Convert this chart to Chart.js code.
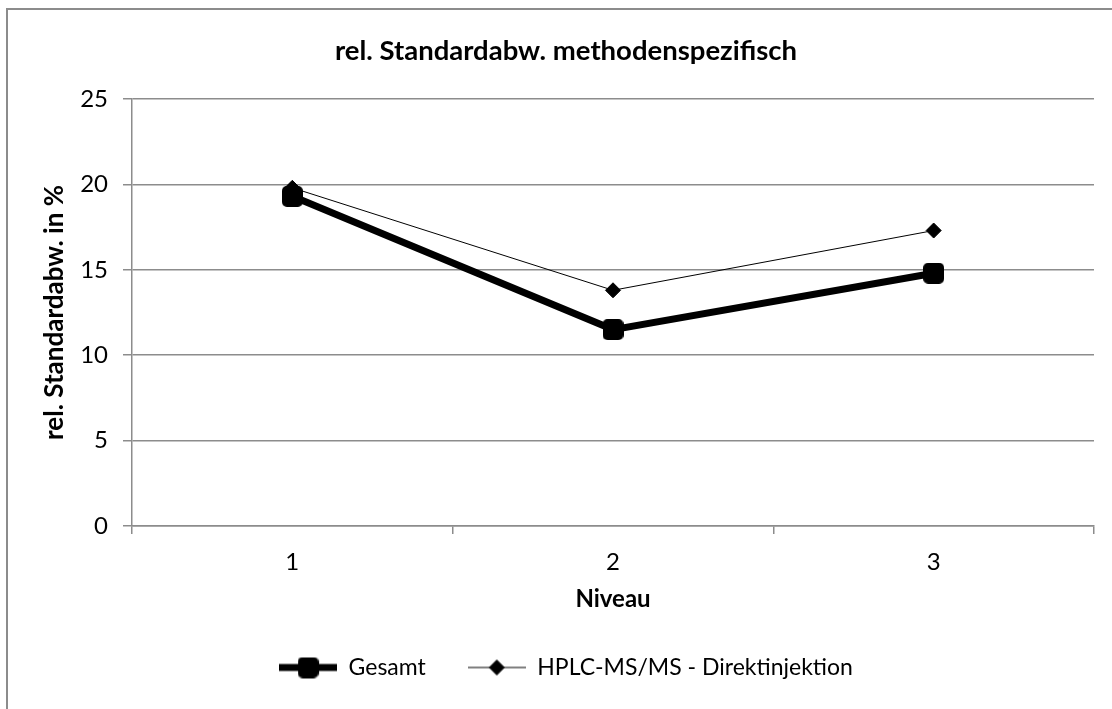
<!DOCTYPE html>
<html>
<head>
<meta charset="utf-8">
<title>rel. Standardabw. methodenspezifisch</title>
<script src="https://cdn.jsdelivr.net/npm/chart.js@4/dist/chart.umd.min.js"></script>
<style>
  html, body { margin: 0; padding: 0; background: #fff; overflow: hidden; }
  #wrap { width: 1112px; height: 709px; position: relative; }
</style>
</head>
<body>
<div id="wrap"><canvas id="chart" width="1112" height="709"></canvas></div>
<script>
// Niveau categories and relative standard deviations (%)
const niveaus = ['1', '2', '3'];
const gesamt = [19.3, 11.5, 14.8];
const hplcDirekt = [19.8, 13.8, 17.3];
const yTicks = [0, 5, 10, 15, 20, 25];

const FONT = 'Lato, "Open Sans", "Noto Sans", sans-serif';
const GRID = '#8c8c8c';

// square marker with small rounded corners (Excel style)
function squareMarker(size, r) {
  const c = document.createElement('canvas');
  c.width = size; c.height = size;
  const ctx = c.getContext('2d');
  ctx.fillStyle = '#000';
  ctx.beginPath();
  ctx.roundRect(0, 0, size, size, r);
  ctx.fill();
  return c;
}
const gesamtMarker = squareMarker(21, 5);

// small line+marker sample used as the legend symbol
function legendGlyph(lineWidth, drawMarker) {
  const c = document.createElement('canvas');
  c.width = 58; c.height = 26;
  const ctx = c.getContext('2d');
  ctx.strokeStyle = '#000';
  ctx.fillStyle = '#000';
  ctx.lineWidth = lineWidth;
  ctx.beginPath();
  ctx.moveTo(0, 13);
  ctx.lineTo(58, 13);
  ctx.stroke();
  ctx.lineWidth = 1;
  drawMarker(ctx, 29, 13);
  return c;
}

const glyphs = {
  0: legendGlyph(7, (ctx, x, y) => ctx.drawImage(gesamtMarker, x - 10.5, y - 10.5)),
  1: legendGlyph(1, (ctx, x, y) =>
    Chart.helpers.drawPoint(ctx, { pointStyle: 'rectRot', radius: 7.5, borderWidth: 1, rotation: 0 }, x, y))
};

// grey frame round the whole chart
const frame = {
  id: 'frame',
  beforeDraw(chart) {
    const ctx = chart.ctx;
    ctx.save();
    ctx.fillStyle = '#fff';
    ctx.fillRect(0, 0, chart.width, chart.height);
    ctx.strokeStyle = GRID;
    ctx.lineWidth = 2;
    ctx.strokeRect(7, 9, 1200, 800);
    ctx.restore();
  }
};

new Chart(document.getElementById('chart'), {
  type: 'line',
  data: {
    labels: niveaus,
    datasets: [
      {
        label: 'Gesamt',
        data: gesamt,
        borderColor: '#000',
        backgroundColor: '#000',
        borderWidth: 7,
        pointStyle: gesamtMarker,
        pointRadius: 11,
        tension: 0
      },
      {
        label: 'HPLC-MS/MS - Direktinjektion',
        data: hplcDirekt,
        borderColor: '#000',
        backgroundColor: '#000',
        borderWidth: 1,
        pointStyle: 'rectRot',
        pointRadius: 7.5,
        pointBorderWidth: 1,
        tension: 0
      }
    ]
  },
  options: {
    responsive: false,
    animation: false,
    devicePixelRatio: 1,
    layout: { padding: { left: 36, right: 16, top: 0, bottom: 20 } },
    plugins: {
      title: {
        display: true,
        text: 'rel. Standardabw. methodenspezifisch',
        color: '#000',
        font: { family: FONT, size: 27.5, weight: 'bold' },
        padding: { top: 35, bottom: 31 }
      },
      legend: {
        position: 'bottom',
        labels: {
          color: '#000',
          font: { family: FONT, size: 23 },
          usePointStyle: true,
          pointStyleWidth: 58,
          padding: 42,
          generateLabels(chart) {
            const items = Chart.defaults.plugins.legend.labels.generateLabels(chart);
            items.forEach(it => { it.pointStyle = glyphs[it.datasetIndex]; });
            return items;
          }
        }
      },
      tooltip: { enabled: false }
    },
    scales: {
      x: {
        offset: true,
        grid: {
          offset: true,
          drawOnChartArea: false,
          drawTicks: true,
          tickLength: 8,
          color: GRID,
          lineWidth: 1.5
        },
        border: { color: GRID, width: 1.5 },
        ticks: { color: '#000', font: { family: FONT, size: 24 }, padding: 14 },
        title: {
          display: true,
          text: 'Niveau',
          color: '#000',
          font: { family: FONT, size: 24, weight: 'bold' },
          padding: { top: 0, bottom: 0 }
        },
        afterFit(scale) { scale.height = 88; }
      },
      y: {
        min: 0,
        max: 25,
        afterBuildTicks(scale) { scale.ticks = yTicks.map(v => ({ value: v })); },
        grid: {
          color: GRID,
          lineWidth: 1.5,
          drawTicks: true,
          tickLength: 9
        },
        border: { color: GRID, width: 1.5 },
        ticks: { color: '#000', font: { family: FONT, size: 24 }, padding: 15 },
        title: {
          display: true,
          text: 'rel. Standardabw. in %',
          color: '#000',
          font: { family: FONT, size: 26, weight: 'bold' },
          padding: { top: 3, bottom: 0 }
        },
        afterFit(scale) { scale.width = 96; }
      }
    }
  },
  plugins: [frame]
});
</script>
</body>
</html>
